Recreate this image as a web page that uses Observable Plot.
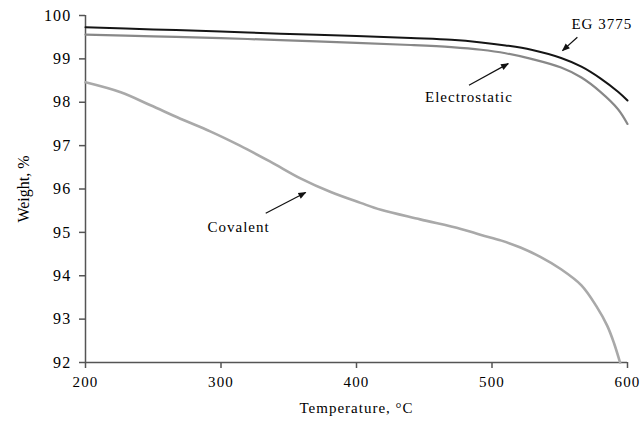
<!DOCTYPE html>
<html>
<head>
<meta charset="utf-8">
<script src="https://cdn.jsdelivr.net/npm/d3@7"></script>
<script src="https://cdn.jsdelivr.net/npm/@observablehq/plot@0.6"></script>
<style>
  html, body { margin: 0; padding: 0; background: white; }
</style>
</head>
<body>
<div id="chart"></div>
<script>
// Temperature (°C) and weight (%) readings
const egTemp = [200, 250, 300, 344, 400, 440, 470, 492, 510, 529, 551, 566, 580, 593, 600];
const egWeight = [99.73, 99.68, 99.63, 99.58, 99.53, 99.48, 99.44, 99.38, 99.31, 99.21, 99.02, 98.82, 98.55, 98.24, 98.04];

const elTemp = [200, 250, 300, 344, 400, 440, 470, 492, 510, 529, 551, 566, 580, 593, 600];
const elWeight = [99.56, 99.52, 99.48, 99.43, 99.37, 99.32, 99.27, 99.21, 99.13, 99.0, 98.80, 98.57, 98.24, 97.84, 97.50];

const coTemp = [200, 226, 248, 270, 292, 314, 337, 359, 381, 403, 418, 447, 477, 492, 507, 521, 536, 551, 566, 577, 585, 590, 594.5];
const coWeight = [98.46, 98.23, 97.93, 97.62, 97.33, 97.0, 96.62, 96.24, 95.93, 95.68, 95.52, 95.30, 95.08, 94.94, 94.81, 94.65, 94.43, 94.15, 93.78, 93.30, 92.85, 92.45, 92.0];

const xTicks = [200, 300, 400, 500, 600];
const yTicks = [92, 93, 94, 95, 96, 97, 98, 99, 100];

// Annotation labels and arrows (data coordinates)
const labelNames = ["EG 3775", "Electrostatic", "Covalent"];
const labelTemp = [581, 483, 313];
const labelWeight = [99.81, 98.12, 95.12];
const arrowFromTemp = [563, 483, 333];
const arrowFromWeight = [99.50, 98.39, 95.44];
const arrowToTemp = [552, 512, 362.5];
const arrowToWeight = [99.19, 98.89, 95.92];

const toRows = (xs, ys) => xs.map((x, i) => ({x, y: ys[i]}));
const eg = toRows(egTemp, egWeight);
const el = toRows(elTemp, elWeight);
const co = toRows(coTemp, coWeight);
const labels = labelNames.map((t, i) => ({t, x: labelTemp[i], y: labelWeight[i]}));
const arrows = labelNames.map((t, i) => ({x1: arrowFromTemp[i], y1: arrowFromWeight[i], x2: arrowToTemp[i], y2: arrowToWeight[i]}));

const axisColor = "#555";

const chart = Plot.plot({
  width: 641,
  height: 425,
  marginLeft: 85,
  marginRight: 14,
  marginTop: 15,
  marginBottom: 63,
  style: {fontFamily: "'Liberation Serif', 'Times New Roman', serif", fontSize: "15px", background: "white", color: "#000"},
  x: {domain: [200, 600]},
  y: {domain: [92, 100]},
  marks: [
    Plot.axisY({ticks: yTicks, tickSize: 6, tickPadding: 8, label: "Weight, %", labelAnchor: "center", labelOffset: 68, labelArrow: "none", stroke: axisColor, strokeWidth: 1.5, fontSize: 16}),
    Plot.axisX({ticks: xTicks, tickSize: 6, tickPadding: 8, label: "Temperature, °C", labelAnchor: "center", labelOffset: 50, labelArrow: "none", stroke: axisColor, strokeWidth: 1.5, fontSize: 15}),
    Plot.ruleX([200], {stroke: axisColor, strokeWidth: 1.5}),
    Plot.ruleY([92], {stroke: axisColor, strokeWidth: 1.5}),
    Plot.line(co, {x: "x", y: "y", stroke: "#a9a9a9", strokeWidth: 2.6, curve: "catmull-rom"}),
    Plot.line(el, {x: "x", y: "y", stroke: "#888", strokeWidth: 2.2, curve: "catmull-rom"}),
    Plot.line(eg, {x: "x", y: "y", stroke: "#151515", strokeWidth: 2, curve: "catmull-rom"}),
    Plot.link(arrows, {x1: "x1", y1: "y1", x2: "x2", y2: "y2", stroke: "#111", strokeWidth: 1.2}),
    Plot.text(labels, {x: "x", y: "y", text: "t", fill: "#000", fontSize: 15})
  ]
});

// filled arrowheads on annotation links
const ns = "http://www.w3.org/2000/svg";
const defs = document.createElementNS(ns, "defs");
const marker = document.createElementNS(ns, "marker");
marker.setAttribute("id", "ahead");
marker.setAttribute("viewBox", "0 0 10 10");
marker.setAttribute("refX", "9");
marker.setAttribute("refY", "5");
marker.setAttribute("markerWidth", "9");
marker.setAttribute("markerHeight", "8");
marker.setAttribute("markerUnits", "userSpaceOnUse");
marker.setAttribute("orient", "auto");
const mp = document.createElementNS(ns, "path");
mp.setAttribute("d", "M0,1L10,5L0,9z");
mp.setAttribute("fill", "#111");
marker.appendChild(mp);
defs.appendChild(marker);
chart.insertBefore(defs, chart.firstChild);
chart.querySelectorAll('g[aria-label="link"] path, g[aria-label="link"] line').forEach(p => p.setAttribute("marker-end", "url(#ahead)"));

// wider letter spacing to match the stretched glyphs of the reference
chart.querySelectorAll('g[aria-label="x-axis tick label"] text, g[aria-label="y-axis tick label"] text').forEach(t => t.setAttribute("letter-spacing", "1.2"));
chart.querySelectorAll('g[aria-label="text"] text, g[aria-label="x-axis label"] text').forEach(t => t.setAttribute("letter-spacing", "1"));

document.getElementById("chart").appendChild(chart);
</script>
</body>
</html>
